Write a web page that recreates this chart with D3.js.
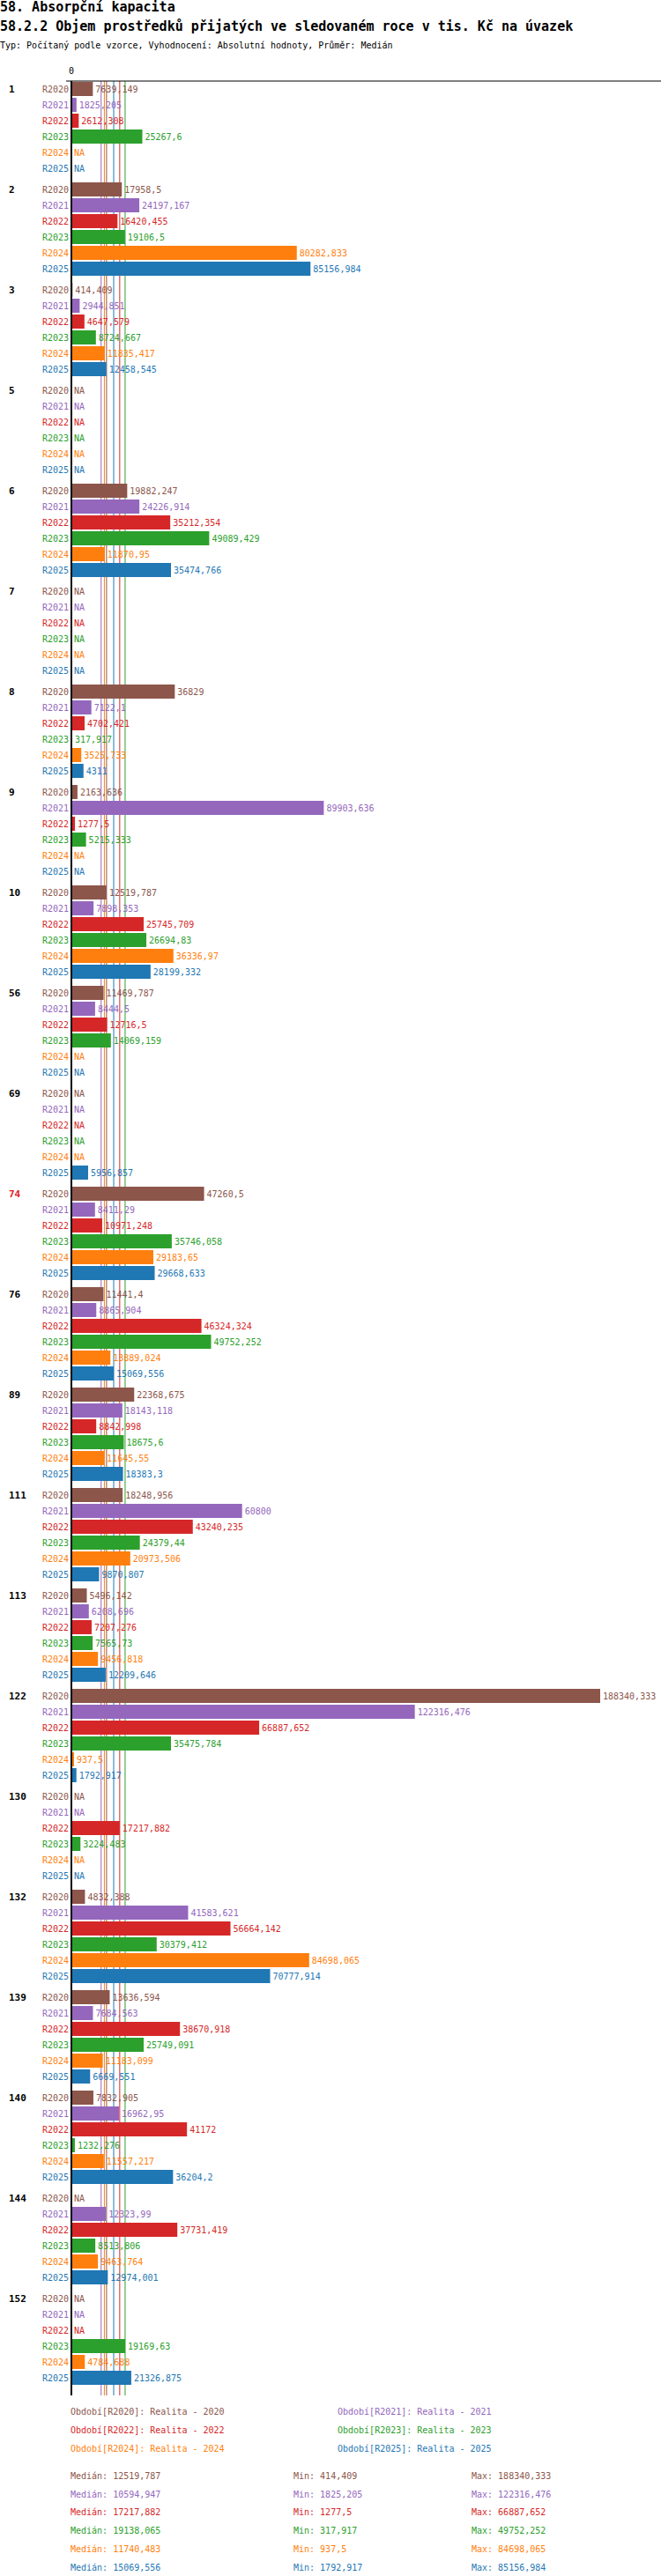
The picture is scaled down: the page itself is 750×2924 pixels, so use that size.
<!DOCTYPE html>
<html>
<head>
<meta charset="utf-8">
<script src="https://cdn.jsdelivr.net/npm/d3@7"></script>
<style>
  body { margin: 0; background: #fff; }
  text { font-family: "DejaVu Sans Mono", monospace; }
</style>
</head>
<body>
<div id="chart"></div>
<script>
// Data
const groups = ['1','2','3','5','6','7','8','9','10','56','69','74','76','89','111','113','122','130','132','139','140','144','152'];
const periods = ['R2020','R2021','R2022','R2023','R2024','R2025'];
const colors = ['#8c564b','#9467bd','#d62728','#2ca02c','#ff7f0e','#1f77b4'];
const values = [
  [7639.149, 1825.205, 2612.308, 25267.6, null, null],
  [17958.5, 24197.167, 16420.455, 19106.5, 80282.833, 85156.984],
  [414.409, 2944.851, 4647.579, 8724.667, 11835.417, 12458.545],
  [null, null, null, null, null, null],
  [19882.247, 24226.914, 35212.354, 49089.429, 11870.95, 35474.766],
  [null, null, null, null, null, null],
  [36829, 7122.1, 4702.421, 317.917, 3525.733, 4311],
  [2163.636, 89903.636, 1277.5, 5215.333, null, null],
  [12519.787, 7898.353, 25745.709, 26694.83, 36336.97, 28199.332],
  [11469.787, 8444.5, 12716.5, 14069.159, null, null],
  [null, null, null, null, null, 5956.857],
  [47260.5, 8411.29, 10971.248, 35746.058, 29183.65, 29668.633],
  [11441.4, 8865.904, 46324.324, 49752.252, 13889.024, 15069.556],
  [22368.675, 18143.118, 8842.998, 18675.6, 11645.55, 18383.3],
  [18248.956, 60800, 43240.235, 24379.44, 20973.506, 9870.807],
  [5496.142, 6208.696, 7207.276, 7565.73, 9456.818, 12209.646],
  [188340.333, 122316.476, 66887.652, 35475.784, 937.5, 1792.917],
  [null, null, 17217.882, 3224.483, null, null],
  [4832.388, 41583.621, 56664.142, 30379.412, 84698.065, 70777.914],
  [13636.594, 7684.563, 38670.918, 25749.091, 11183.099, 6669.551],
  [7832.905, 16962.95, 41172, 1232.276, 11557.217, 36204.2],
  [null, 12323.99, 37731.419, 8513.806, 9463.764, 12974.001],
  [null, null, null, 19169.63, 4784.688, 21326.875]
];
const medians = [12519.787, 10594.947, 17217.882, 19138.065, 11740.483, 15069.556];
const mins = [414.409, 1825.205, 1277.5, 317.917, 937.5, 1792.917];
const maxs = [188340.333, 122316.476, 66887.652, 49752.252, 84698.065, 85156.984];
const legendLabels = ['Období[R2020]: Realita - 2020','Období[R2021]: Realita - 2021','Období[R2022]: Realita - 2022','Období[R2023]: Realita - 2023','Období[R2024]: Realita - 2024','Období[R2025]: Realita - 2025'];
const highlighted = ['74'];

const W = 750, H = 2924;
const x0 = 81, rowH = 18, groupH = 114, topY = 101;
const fmt = v => String(v).replace('.', ',');

const svg = d3.select('#chart').append('svg').attr('width', W).attr('height', H);

svg.append('text').attr('x', 0).attr('y', 13).attr('font-size', 15).attr('font-weight', 'bold').text('58. Absorpční kapacita');
svg.append('text').attr('x', 0).attr('y', 35).attr('font-size', 15).attr('font-weight', 'bold')
  .text('58.2.2 Objem prostředků přijatých ve sledovaném roce v tis. Kč na úvazek');
svg.append('text').attr('x', 0).attr('y', 55).attr('font-size', 10)
  .text('Typ: Počítaný podle vzorce, Vyhodnocení: Absolutní hodnoty, Průměr: Medián');

const x = d3.scaleLinear().domain([0, d3.max(maxs)]).range([x0, 681]);
const yGroup = d3.scaleBand().domain(groups).range([topY, topY + groupH * groups.length]).padding(0);
const yRow = d3.scaleBand().domain(periods).range([0, rowH * periods.length]);
const gy = g => yGroup(g) - rowH / 2;

const yEnd = topY + groupH * (groups.length - 1) + rowH * 5 + 20;

// median lines behind bars
svg.selectAll('.median').data(medians).enter().append('line')
  .attr('x1', d => x(d)).attr('x2', d => x(d))
  .attr('y1', 92).attr('y2', yEnd)
  .attr('stroke', (d, i) => colors[i]).attr('stroke-width', 1);

const g = svg.selectAll('.grp').data(groups).enter().append('g')
  .attr('transform', d => `translate(0,${gy(d)})`);

g.append('text').attr('x', 10).attr('y', rowH / 2 + 4).attr('font-size', 11).attr('font-weight', 'bold')
  .attr('fill', d => highlighted.includes(d) ? '#e41a1c' : '#000').text(d => d);

const rows = g.selectAll('.row').data((d, gi) => periods.map((p, i) => ({ p, i, v: values[gi][i] })))
  .enter().append('g').attr('transform', d => `translate(0,${yRow(d.p)})`);

rows.append('text').attr('x', 78).attr('y', rowH / 2 + 4).attr('text-anchor', 'end').attr('font-size', 10)
  .attr('fill', d => colors[d.i]).text(d => d.p);
rows.filter(d => d.v != null).append('rect')
  .attr('x', x0).attr('y', 1).attr('height', 16)
  .attr('width', d => x(d.v) - x0).attr('fill', d => colors[d.i]);
rows.append('text').attr('x', d => (d.v == null ? x0 : x(d.v)) + 3).attr('y', rowH / 2 + 4)
  .attr('font-size', 10).attr('fill', d => colors[d.i])
  .text(d => d.v == null ? 'NA' : fmt(d.v));

// axes
svg.append('line').attr('x1', 75).attr('x2', W).attr('y1', 92).attr('y2', 92).attr('stroke', '#000');
svg.append('line').attr('x1', x0).attr('x2', x0).attr('y1', 92).attr('y2', yEnd).attr('stroke', '#000').attr('stroke-width', 2);
svg.append('text').attr('x', x0).attr('y', 84).attr('text-anchor', 'middle').attr('font-size', 10).text('0');

// legend
svg.selectAll('.leg').data(legendLabels).enter().append('text')
  .attr('x', (d, i) => i % 2 ? 383 : 80).attr('y', (d, i) => 2741 + Math.floor(i / 2) * 21)
  .attr('font-size', 10).attr('fill', (d, i) => colors[i]).text(d => d);

const stats = svg.selectAll('.stat').data(periods).enter().append('g')
  .attr('transform', (d, i) => `translate(0,${2814 + i * 20.7})`);
stats.append('text').attr('x', 80).attr('font-size', 10).attr('fill', (d, i) => colors[i]).text((d, i) => 'Medián: ' + fmt(medians[i]));
stats.append('text').attr('x', 333).attr('font-size', 10).attr('fill', (d, i) => colors[i]).text((d, i) => 'Min: ' + fmt(mins[i]));
stats.append('text').attr('x', 535).attr('font-size', 10).attr('fill', (d, i) => colors[i]).text((d, i) => 'Max: ' + fmt(maxs[i]));
</script>
</body>
</html>
